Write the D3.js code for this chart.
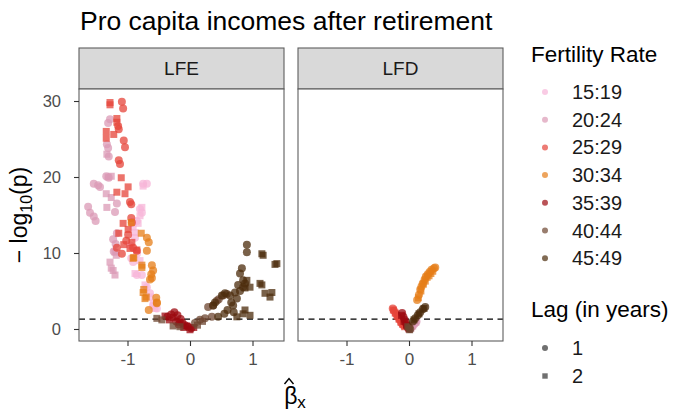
<!DOCTYPE html>
<html>
<head>
<meta charset="utf-8">
<script src="https://cdn.jsdelivr.net/npm/d3@7/dist/d3.min.js"></script>
<style>
  html, body { margin: 0; padding: 0; background: #fff; }
  svg { display: block; font-family: "Liberation Sans", Arial, sans-serif; }
</style>
</head>
<body>
<svg id="chart" width="689" height="418"></svg>
<script>
// Age groups of the fertility rate and their colours
const ageGroups = ["15:19", "20:24", "25:29", "30:34", "35:39", "40:44", "45:49"];
const groupColors = ["#f7b5d8", "#db9ab5", "#e5443a", "#e67e18", "#9c0a10", "#6e4630", "#4c2c0c"];
const lagLevels = [1, 2];
const facets = ["LFE", "LFD"];
const xTicks = [-1, 0, 1];
const yTicks = [0, 10, 20, 30];
const threshold = -Math.log10(0.05);

// Points per facet and age group: [beta, -log10(p), lag]
const LFE_15_19 = [
  [-0.75,19.1,1],[-0.69,19.1,1],[-0.80,15.8,1],[-0.77,15.3,1],[-0.85,14.2,1],[-0.85,9.9,1],
  [-0.91,8.8,1],[-0.94,9.3,1],[-0.85,7.1,1],[-0.77,7.1,1],[-0.69,5.5,1],[-0.64,4.7,1],
  [-0.59,3.1,1],[-0.53,2.7,1],[-0.88,12.0,1],[-0.95,11.0,1],
  [-0.75,18.8,2],[-0.77,16.0,2],[-0.80,14.9,2],[-0.83,13.9,2],[-0.91,13.4,2],[-0.88,12.7,2],
  [-0.88,7.3,2],[-0.72,5.8,2],[-0.64,4.2,2],[-0.56,2.7,2],[-0.59,3.4,2],[-0.80,9.0,2]
];
const LFE_20_24 = [
  [-1.28,27.6,1],[-1.31,27.1,1],[-1.33,24.3,1],[-1.31,23.8,1],[-1.30,22.7,1],[-1.54,19.1,1],
  [-1.47,18.9,1],[-1.44,18.7,1],[-1.63,16.1,1],[-1.60,15.3,1],[-1.54,14.8,1],[-1.51,14.2,1],
  [-1.17,16.5,1],[-1.20,15.4,1],[-1.23,11.8,1],[-1.19,11.2,1],[-1.22,10.2,1],[-1.17,12.6,1],
  [-1.34,20.1,1],[-1.30,19.9,1],
  [-1.31,20.0,2],[-1.26,20.1,2],[-1.34,17.8,2],[-1.26,17.3,2],[-1.33,16.0,2],[-1.28,8.8,2],
  [-1.26,8.0,2],[-1.20,7.1,2],[-1.23,7.7,2],[-1.18,9.7,2],[-1.20,10.1,2],[-1.33,23.0,2]
];
const LFE_25_29 = [
  [-1.09,29.9,1],[-1.07,29.0,1],[-1.15,26.7,1],[-1.14,26.3,1],[-1.06,24.8,1],[-1.04,23.9,1],
  [-1.14,22.2,1],[-1.12,21.7,1],[-0.96,16.7,1],[-0.94,16.4,1],[-0.94,14.6,1],[-0.93,14.0,1],
  [-0.99,12.4,1],[-1.02,11.6,1],[-0.91,10.7,1],[-1.17,10.7,1],[-1.09,9.9,1],[-0.85,10.3,1],
  [-1.28,29.8,2],[-1.28,29.5,2],[-1.17,27.7,2],[-1.17,27.2,2],[-1.34,26.0,2],[-1.34,25.1,2],
  [-1.22,25.6,2],[-1.10,19.9,2],[-0.99,18.7,2],[-1.17,18.0,2],[-1.04,17.8,2],[-1.07,13.9,2],
  [-0.99,13.1,2],[-1.14,12.6,2],[-1.06,11.1,2],[-0.93,11.4,2],[-0.85,10.4,2],[-0.96,10.6,2]
];
const LFE_30_34 = [
  [-0.69,12.0,1],[-0.66,11.4,1],[-0.69,10.3,1],[-0.61,8.4,1],[-0.59,7.7,1],[-0.61,6.7,1],
  [-0.54,4.1,1],[-0.53,3.4,1],[-0.62,7.2,1],[-0.64,6.5,1],[-0.53,3.5,1],[-0.66,2.5,1],
  [-0.94,14.0,2],[-0.90,9.4,2],[-0.91,9.3,2],[-0.78,12.6,2],[-0.77,8.1,2],[-0.74,5.2,2],
  [-0.70,4.2,2],[-0.77,8.4,2],[-0.75,4.8,2],[-0.72,4.0,2]
];
const LFE_35_39 = [
  [-0.36,1.6,1],[-0.30,1.9,1],[-0.25,2.2,1],[-0.20,1.8,1],[-0.15,1.3,1],[-0.12,0.8,1],
  [-0.08,0.5,1],[-0.03,0.3,1],[0.02,0.1,1],[-0.22,1.0,1],[-0.18,0.6,1],
  [-0.33,1.2,2],[-0.27,1.5,2],[-0.17,0.9,2],[-0.10,0.2,2],[0.00,-0.1,2],[0.06,0.2,2],
  [-0.05,0.4,2],[-0.40,1.7,2]
];
const LFE_40_44 = [
  [0.37,3.1,1],[0.29,2.9,1],[0.53,4.4,1],[0.59,4.6,1],[0.43,3.7,1],[0.35,1.6,1],
  [0.24,1.4,1],[0.16,1.2,1],[0.08,0.8,1],[0.46,3.9,1],
  [-0.53,1.4,2],[-0.45,1.2,2],[-0.27,0.4,2],[-0.16,0.3,2],[0.12,0.5,2],[0.20,1.0,2]
];
const LFE_45_49 = [
  [0.91,11.1,1],[0.91,10.1,1],[0.83,8.0,1],[0.80,7.3,1],[0.85,6.4,1],[0.77,5.8,1],
  [0.72,4.8,1],[0.56,4.7,1],[0.51,4.4,1],[0.64,4.4,1],[0.40,3.5,1],[0.37,3.1,1],
  [0.69,3.1,1],[0.60,2.5,1],[0.66,3.5,1],[0.75,4.0,1],[0.80,5.0,1],[0.85,5.5,1],
  [0.55,2.0,1],[0.45,1.6,1],[0.88,6.0,1],[0.70,2.2,1],
  [1.39,8.6,2],[1.36,8.5,2],[1.15,9.9,2],[1.17,9.7,2],[0.96,5.5,2],[1.12,6.0,2],
  [1.20,4.7,2],[1.31,4.8,2],[1.28,4.2,2],[0.91,6.4,2],[1.15,5.8,2],[0.88,5.4,2],
  [0.96,1.8,2],[0.88,2.5,2],[0.75,1.6,2],[0.85,2.0,2]
];

const LFD_15_19 = [[0.02,0.3,1],[0.05,0.5,1],[0.04,0.4,2]];
const LFD_20_24 = [
  [0.10,0.8,1],[0.05,0.3,1],[0.08,0.6,1],[0.12,1.0,1],
  [0.06,0.4,2],[0.11,0.9,2],[0.03,0.1,2]
];
const LFD_25_29 = [
  [-0.26,2.7,1],[-0.24,2.4,1],[-0.21,2.0,1],[-0.18,1.6,1],[-0.15,1.2,1],[-0.12,0.8,1],[-0.09,0.5,1],
  [-0.25,2.5,2],[-0.22,2.1,2],[-0.19,1.7,2],[-0.16,1.3,2],[-0.13,0.9,2],[-0.10,0.6,2],[-0.07,0.3,2]
];
const LFD_30_34 = [
  [0.13,3.8,1],[0.16,4.5,1],[0.18,5.2,1],[0.20,5.6,1],[0.22,6.0,1],[0.25,6.5,1],
  [0.27,6.9,1],[0.30,7.2,1],[0.33,7.5,1],[0.36,7.8,1],[0.40,8.0,1],[0.42,8.1,1],
  [0.15,4.1,2],[0.19,5.0,2],[0.23,5.9,2],[0.26,6.3,2],[0.29,6.8,2],[0.32,7.0,2],
  [0.35,7.3,2],[0.38,7.6,2]
];
const LFD_35_39 = [
  [-0.11,2.1,1],[-0.09,1.6,1],[-0.07,1.2,1],[-0.05,0.8,1],[-0.03,0.4,1],[-0.01,0.1,1],
  [-0.12,1.8,2],[-0.08,1.0,2],[-0.04,0.5,2],[0.00,0.0,2]
];
const LFD_40_44 = [[0.00,0.2,1],[0.02,0.0,1],[0.01,-0.1,2],[-0.02,0.3,2]];
const LFD_45_49 = [
  [0.26,2.9,1],[0.22,2.6,1],[0.18,2.2,1],[0.14,1.8,1],[0.10,1.4,1],[0.06,1.0,1],
  [0.24,2.7,2],[0.16,2.0,2],[0.08,1.2,2]
];

const facetData = {
  LFE: [LFE_15_19, LFE_20_24, LFE_25_29, LFE_30_34, LFE_35_39, LFE_40_44, LFE_45_49],
  LFD: [LFD_15_19, LFD_20_24, LFD_25_29, LFD_30_34, LFD_35_39, LFD_40_44, LFD_45_49]
};

// Layout
const svg = d3.select("#chart");
const panelW = 205, panelTop = 89, panelBottom = 341, stripTop = 48;
const panelLefts = [79, 298];
const axisGrey = "#4d4d4d";
const borderGrey = "#5e5e5e";
const pointAlpha = 0.75;
const font = "Liberation Sans, Arial, sans-serif";

const color = d3.scaleOrdinal().domain(ageGroups).range(groupColors);
const y = d3.scaleLinear().domain([-1.58, 31.58]).range([panelBottom, panelTop]);

// Title
svg.append("text").attr("x", 80).attr("y", 30)
  .attr("font-size", 26.5).attr("fill", "#000")
  .text("Pro capita incomes after retirement");

facets.forEach((facet, fi) => {
  const left = panelLefts[fi];
  const x = d3.scaleLinear().domain([-1.776, 1.504]).range([left, left + panelW]);
  const g = svg.append("g");

  // Strip
  g.append("rect").attr("x", left).attr("y", stripTop)
    .attr("width", panelW).attr("height", panelTop - stripTop)
    .attr("fill", "#d9d9d9").attr("stroke", borderGrey).attr("stroke-width", 1.1);
  g.append("text").attr("x", left + panelW / 2).attr("y", (stripTop + panelTop) / 2 + 6.5)
    .attr("text-anchor", "middle").attr("font-size", 19).attr("fill", "#1a1a1a")
    .text(facet);

  // Panel background
  g.append("rect").attr("x", left).attr("y", panelTop)
    .attr("width", panelW).attr("height", panelBottom - panelTop)
    .attr("fill", "#fff");

  const clipId = "clip-" + facet;
  svg.append("clipPath").attr("id", clipId).append("rect")
    .attr("x", left).attr("y", panelTop).attr("width", panelW).attr("height", panelBottom - panelTop);

  const marks = g.append("g").attr("clip-path", `url(#${clipId})`);

  // Significance threshold
  marks.append("line")
    .attr("x1", left).attr("x2", left + panelW)
    .attr("y1", y(threshold)).attr("y2", y(threshold))
    .attr("stroke", "#000").attr("stroke-width", 1.3).attr("stroke-dasharray", "6,4.5");

  // Points
  facetData[facet].forEach((pts, gi) => {
    const col = color(ageGroups[gi]);
    pts.forEach(([b, p, lag]) => {
      if (lag === 1) {
        marks.append("circle").attr("cx", x(b)).attr("cy", y(p)).attr("r", 4)
          .attr("fill", col).attr("fill-opacity", pointAlpha);
      } else {
        marks.append("rect").attr("x", x(b) - 3.5).attr("y", y(p) - 3.5)
          .attr("width", 7).attr("height", 7)
          .attr("fill", col).attr("fill-opacity", pointAlpha);
      }
    });
  });

  // Panel border
  g.append("rect").attr("x", left).attr("y", panelTop)
    .attr("width", panelW).attr("height", panelBottom - panelTop)
    .attr("fill", "none").attr("stroke", borderGrey).attr("stroke-width", 1.1);

  // X axis
  const xAxis = d3.axisBottom(x).tickValues(xTicks).tickSize(5).tickPadding(7)
    .tickFormat(d3.format("d"));
  const xg = svg.append("g").attr("transform", `translate(0,${panelBottom})`).call(xAxis);
  xg.attr("font-size", 17).attr("font-family", font);
  xg.select(".domain").remove();
  xg.selectAll(".tick line").attr("stroke", "#333").attr("stroke-width", 1.1);
  xg.selectAll(".tick text").attr("fill", axisGrey)
    .text(d => d < 0 ? "-" + Math.abs(d) : d);

  // Y axis on the first panel only
  if (fi === 0) {
    const yAxis = d3.axisLeft(y).tickValues(yTicks).tickSize(5).tickPadding(13);
    const yg = svg.append("g").attr("transform", `translate(${left},0)`).call(yAxis);
    yg.attr("font-size", 16.5).attr("font-family", font);
    yg.select(".domain").remove();
    yg.selectAll(".tick line").attr("stroke", "#333").attr("stroke-width", 1.1);
    yg.selectAll(".tick text").attr("fill", axisGrey);
  }
});

// Y axis title: − log10(p)
const yTitle = svg.append("text")
  .attr("transform", `translate(27,${(panelTop + panelBottom) / 2}) rotate(-90)`)
  .attr("text-anchor", "middle").attr("font-size", 23).attr("fill", "#000");
yTitle.append("tspan").text("\u2212 log");
yTitle.append("tspan").attr("font-size", 16).attr("dy", 5).text("10");
yTitle.append("tspan").attr("dy", -5).text("(p)");

// X axis title: beta hat with subscript x
const xMid = (panelLefts[0] + panelLefts[1] + panelW) / 2 + 4;
const xTitle = svg.append("text").attr("x", xMid).attr("y", 404)
  .attr("text-anchor", "middle").attr("font-size", 23).attr("fill", "#000");
xTitle.append("tspan").text("\u03b2");
xTitle.append("tspan").attr("font-size", 17).attr("dy", 4).text("x");
// circumflex over beta
const hatX = xMid - 6;
svg.append("path")
  .attr("d", `M${hatX - 4.5},${384} L${hatX},${378.5} L${hatX + 4.5},${384}`)
  .attr("fill", "none").attr("stroke", "#000").attr("stroke-width", 1.4);

// Legend: fertility rate (colour)
const legX = 531;
svg.append("text").attr("x", legX).attr("y", 62).attr("font-size", 22.5).attr("fill", "#000")
  .text("Fertility Rate");
ageGroups.forEach((ag, i) => {
  const cy = 92 + i * 27.7;
  svg.append("circle").attr("cx", 545).attr("cy", cy).attr("r", 3)
    .attr("fill", color(ag)).attr("fill-opacity", 0.7);
  svg.append("text").attr("x", 572).attr("y", cy + 7).attr("font-size", 20).attr("fill", "#1a1a1a")
    .text(ag);
});

// Legend: lag (shape)
svg.append("text").attr("x", legX).attr("y", 317).attr("font-size", 22.5).attr("fill", "#000")
  .text("Lag (in years)");
lagLevels.forEach((lag, i) => {
  const cy = 348 + i * 28;
  if (lag === 1) {
    svg.append("circle").attr("cx", 545).attr("cy", cy).attr("r", 3)
      .attr("fill", "#333").attr("fill-opacity", 0.7);
  } else {
    svg.append("rect").attr("x", 542.3).attr("y", cy - 2.7).attr("width", 5.4).attr("height", 5.4)
      .attr("fill", "#333").attr("fill-opacity", 0.7);
  }
  svg.append("text").attr("x", 572).attr("y", cy + 7).attr("font-size", 20).attr("fill", "#1a1a1a")
    .text(lag);
});
</script>
</body>
</html>
